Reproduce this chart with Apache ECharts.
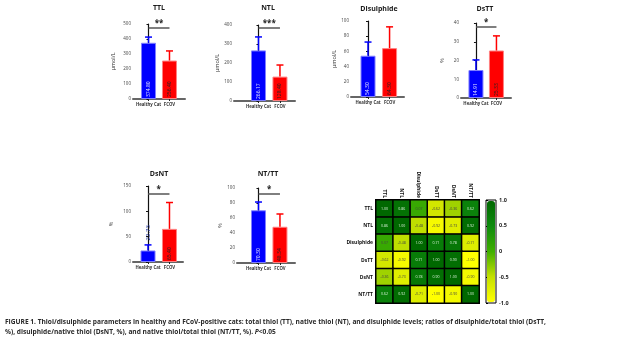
<!DOCTYPE html>
<html><head><meta charset="utf-8">
<script src="https://cdn.jsdelivr.net/npm/echarts@6/dist/echarts.min.js"></script>
<style>html,body{margin:0;padding:0;background:#fff}#c{width:637px;height:341px}</style>
</head><body><div id="c"></div>
<script>
// ---------- data ----------
const categories = ['Healthy Cat', 'FCOV'];
const panelNames = ['TTL', 'NTL', 'Disulphide', 'DsTT', 'DsNT', 'NT/TT'];
const unitLabels = ['μmol/L', 'μmol/L', 'μmol/L', '%', '%', '%'];
const healthyMeans = [374.80, 266.17, 54.30, 14.91, 22.73, 70.30];
const fcovMeans = [256.40, 128.40, 64.30, 25.33, 65.40, 48.34];
const healthySD = [38, 71, 18, 5.4, 11, 11];
const fcovSD = [64, 61, 28, 7.8, 52, 17];
const yMaxes = [500, 400, 100, 40, 150, 100];
const yIntervals = [100, 100, 20, 10, 50, 20];
const sigStars = ['**', '***', '', '*', '*', '*'];
const sigLevels = [473, 384, null, 37.9, 134, 93];
const corrLabels = ['TTL', 'NTL', 'Disulphide', 'DsTT', 'DsNT', 'NT/TT'];
const corrMatrix = [
  [1.00, 0.86, 0.07, -0.62, -0.36, 0.62],
  [0.86, 1.00, -0.48, -0.92, -0.73, 0.92],
  [0.07, -0.48, 1.00, 0.71, 0.78, -0.71],
  [-0.62, -0.92, 0.71, 1.00, 0.90, -1.00],
  [-0.36, -0.73, 0.78, 0.90, 1.00, -0.90],
  [0.62, 0.92, -0.71, -1.00, -0.90, 1.00]
];
const colorbarTicks = [-1, -0.5, 0, 0.5, 1];
const captionLine1 = 'FIGURE 1. Thiol/disulphide parameters in healthy and FCoV-positive cats: total thiol (TT), native thiol (NT), and disulphide levels; ratios of disulphide/total thiol (DsTT,';
const captionLine2 = '%), disulphide/native thiol (DsNT, %), and native thiol/total thiol (NT/TT, %). ';
const captionP = 'P';
const captionEnd = '<0.05';

// ---------- layout ----------
const layout = [
  {left:133, top:24, width:52, height:75, xMin:-0.74, xMax:1.74, nameGap:17, tx:159, ty:4},
  {left:234, top:25, width:61, height:76, xMin:-1.14, xMax:1.70, nameGap:10, tx:268, ty:4},
  {left:351, top:21, width:53, height:76, xMin:-0.79, xMax:1.67, nameGap:14, tx:379, ty:5},
  {left:461, top:23, width:50, height:75, xMin:-0.73, xMax:1.71, nameGap:16, tx:485, ty:5},
  {left:133, top:186, width:50, height:76, xMin:-0.70, xMax:1.63, nameGap:19, tx:159, ty:170},
  {left:237, top:188, width:58, height:75, xMin:-1.00, xMax:1.70, nameGap:11, tx:268, ty:170}
];
const outsideLabel = [[false,false],[false,false],[false,false],[false,false],[true,false],[false,false]];
const FONT = 'Open Sans';
const BLUE = '#0000ff', RED = '#ff0000';

const grids = [], xAxes = [], yAxes = [], series = [], titles = [];
layout.forEach((L, i) => {
  grids.push({left:L.left, top:L.top, width:L.width, height:L.height});
  titles.push({text: panelNames[i], left: L.tx, top: L.ty, textAlign:'center', padding:0,
    textStyle:{fontFamily:FONT, fontSize:7, fontWeight:'bold', color:'#1a1a1a'}});
  xAxes.push({gridIndex:i, type:'value', min:L.xMin, max:L.xMax,
    splitLine:{show:false},
    axisLine:{show:true, lineStyle:{color:'#666', width:2}},
    axisTick:{show:true, customValues:[0,1], length:2, lineStyle:{color:'#222', width:1}},
    axisLabel:{show:true, customValues:[0,1], formatter:(v)=>categories[Math.round(v)] || '',
      fontFamily:FONT, fontSize:4.3, fontWeight:'bold', color:'#333', margin:4, hideOverlap:false}
  });
  yAxes.push({gridIndex:i, type:'value', min:0, max:yMaxes[i], interval:yIntervals[i],
    name: unitLabels[i], nameLocation:'middle', nameGap:L.nameGap, nameRotate:90,
    nameTextStyle:{fontFamily:FONT, fontSize:5.5, color:'#333'},
    splitLine:{show:false},
    axisLine:{show:true, lineStyle:{color:'#111', width:1.2}},
    axisTick:{show:true, length:2, lineStyle:{color:'#111', width:1}},
    axisLabel:{fontFamily:FONT, fontSize:4.5, color:'#444', margin:2}
  });
  const means = [healthyMeans[i], fcovMeans[i]];
  const sds = [healthySD[i], fcovSD[i]];
  const cols = [BLUE, RED];
  const borders = ['#7f7fff', '#ff8080'];
  const labelCols = ['#e4e4ff', '#222'];
  const barData = means.map((m, k) => {
    const item = {value:[k, m], itemStyle:{color:cols[k], borderColor:borders[k], borderWidth:1},
      label:{color:labelCols[k]}};
    if (outsideLabel[i][k]) {
      item.label = {position:'top', distance:10, color:'#1a2fa0', fontSize:6};
    }
    return item;
  });
  const bar = {type:'bar', xAxisIndex:i, yAxisIndex:i, barWidth:15, data:barData,
    label:{show:true, position:'insideBottom', rotate:90, align:'left', verticalAlign:'middle', distance:2,
      fontFamily:FONT, fontSize:5,
      formatter:(p)=>p.value[1].toFixed(2)},
    z:2, animation:false};
  if (sigStars[i]) {
    bar.markLine = {silent:true, symbol:['none','none'], animation:false,
      lineStyle:{color:'#555', width:1.5, type:'solid'},
      label:{show:true, position:'middle', formatter:sigStars[i], fontFamily:FONT, fontSize:8, fontWeight:'bold', color:'#222', distance:0},
      data:[[{coord:[0, sigLevels[i]]}, {coord:[1, sigLevels[i]]}]]};
  }
  series.push(bar);
  series.push({type:'custom', xAxisIndex:i, yAxisIndex:i, animation:false, z:3,
    data: means.map((m, k) => [k, m, m + sds[k]]),
    renderItem:(params, api) => {
      const x = api.value(0);
      const lo = api.coord([x, api.value(1)]);
      const hi = api.coord([x, api.value(2)]);
      const c = params.dataIndex === 0 ? BLUE : RED;
      return {type:'group', children:[
        {type:'line', shape:{x1:lo[0], y1:lo[1], x2:hi[0], y2:hi[1]}, style:{stroke:c, lineWidth:1.5}},
        {type:'line', shape:{x1:hi[0]-3.5, y1:hi[1], x2:hi[0]+3.5, y2:hi[1]}, style:{stroke:c, lineWidth:1.5}}
      ]};
    }});
});

// heatmap
const hi = layout.length;
grids.push({left:376, top:200, width:103, height:103});
xAxes.push({gridIndex:hi, type:'category', data:corrLabels, position:'top',
  axisLine:{show:false}, axisTick:{show:false}, splitArea:{show:false},
  axisLabel:{rotate:90, fontFamily:FONT, fontSize:5, fontWeight:'bold', color:'#111', margin:2}});
yAxes.push({gridIndex:hi, type:'category', data:corrLabels, inverse:true,
  axisLine:{show:false}, axisTick:{show:false},
  axisLabel:{fontFamily:FONT, fontSize:5, fontWeight:'bold', color:'#111', margin:3}});
const heatData = [];
corrMatrix.forEach((row, r) => row.forEach((v, c) => heatData.push({value:[c, r, v],
  label:{color: v > 0.3 ? '#d8f0d8' : '#444'}})));
series.push({type:'heatmap', xAxisIndex:hi, yAxisIndex:hi, data:heatData, animation:false,
  itemStyle:{borderColor:'#000', borderWidth:1.5},
  label:{show:true, fontFamily:FONT, fontSize:3.5,
    formatter:(p)=>p.value[2].toFixed(2)}});

// colorbar frame/axis
const cb = hi + 1;
grids.push({left:486, top:200, width:10, height:103, show:true, borderColor:'#000', borderWidth:1, backgroundColor:'transparent'});
xAxes.push({gridIndex:cb, type:'value', show:false, min:0, max:1});
yAxes.push({gridIndex:cb, type:'value', min:colorbarTicks[0], max:colorbarTicks[colorbarTicks.length-1], interval:0.5,
  position:'right', splitLine:{show:false}, axisLine:{show:false},
  axisTick:{show:true, length:2, lineStyle:{color:'#000', width:1.2}},
  axisLabel:{fontFamily:FONT, fontSize:5.5, fontWeight:'bold', color:'#222', margin:3,
    formatter:(v)=> v === 0 ? '0' : v.toFixed(1)}});

titles.push({left:5, top:317, padding:0,
  text: captionLine1 + '\n' + captionLine2 + '{i|' + captionP + '}' + captionEnd,
  textStyle:{fontFamily:FONT, fontSize:6.6, fontWeight:'bold', color:'#2a2a2a', lineHeight:10,
    rich:{i:{fontFamily:FONT, fontSize:6.6, fontWeight:'bold', fontStyle:'italic', color:'#2a2a2a', lineHeight:10}}}});

const chart = echarts.init(document.getElementById('c'), null, {renderer:'canvas'});
chart.setOption({
  animation:false,
  title: titles,
  grid: grids,
  xAxis: xAxes,
  yAxis: yAxes,
  visualMap: [{type:'continuous', min:-1, max:1, seriesIndex: series.length - 1,
    left:487, top:201, itemWidth:8, itemHeight:101, padding:0, calculable:false, showLabel:false, text:null,
    inRange:{color:['#ffff00', '#c4e000', '#3fae00', '#0e8a0e', '#006800']}}],
  series: series
});
</script></body></html>
